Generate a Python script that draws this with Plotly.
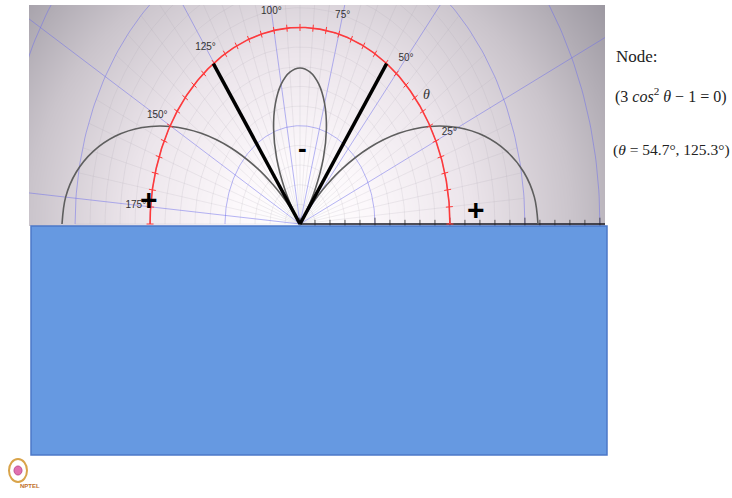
import numpy as np
import plotly.graph_objects as go

# ---------------- data ----------------
theta_deg = [0, 5, 10, 15, 20, 25, 30, 35, 40, 45, 48, 50, 52, 54.7, 57, 60, 65, 70, 75, 80, 85, 90,
             95, 100, 105, 110, 115, 120, 123, 125.3, 128, 130, 132, 135, 140, 145, 150, 155, 160,
             165, 170, 175, 180]
r_abs = [2.000, 1.977, 1.910, 1.799, 1.649, 1.464, 1.250, 1.013, 0.760, 0.500, 0.343, 0.240, 0.137,
         0.000, 0.110, 0.250, 0.464, 0.649, 0.799, 0.910, 0.977, 1.000,
         0.977, 0.910, 0.799, 0.649, 0.464, 0.250, 0.110, 0.000, 0.137, 0.240, 0.343, 0.500, 0.760,
         1.013, 1.250, 1.464, 1.649, 1.799, 1.910, 1.977, 2.000]
node_angles = [54.7, 125.3]
angle_labels = [25, 50, 75, 100, 125, 150, 175]
red_radius = 1.26
major_step = 0.63
minor_step = 0.126
signs = [("+", -1.27, 0.154), ("+", 1.48, 0.09), ("-", 0.025, 0.487)]
side_texts = ["Node:", "(3 <i>cos</i><sup>2</sup> <i>θ</i> − 1 = 0)", "(<i>θ</i> = 54.7°, 125.3°)"]

# ---------------- geometry of the slide ----------------
W, H = 732, 498
SX, SY = 119.0, 156.0      # px per unit (horizontal / vertical)
OX, OY = 300.0, 224.0      # origin in px
L, R, T, B = 29.0, 605.0, 5.0, 226.0
xr = [(L - OX) / SX, (R - OX) / SX]
yr = [-(B - OY) / SY, (OY - T) / SY]

fig = go.Figure()

# background radial gradient
gx = np.linspace(xr[0], xr[1], 220)
gy = np.linspace(yr[0], yr[1], 110)
GX, GY = np.meshgrid(gx, gy)
D = np.sqrt((GX * SX) ** 2 + (GY * SY) ** 2) / 378.0
fig.add_trace(go.Heatmap(x=gx, y=gy, z=D, zmin=0, zmax=1, showscale=False, hoverinfo="skip",
                         zsmooth="best",
                         colorscale=[[0, "#ffffff"], [0.18, "#fcf8fb"], [0.45, "#ece5eb"],
                                     [0.72, "#cac4cb"], [1, "#9b97a0"]]))


def pol(r, t):
    t = np.radians(t)
    return r * np.cos(t), r * np.sin(t)


def circles(radii):
    xs, ys = [], []
    t = np.linspace(0, 180, 181)
    for r in radii:
        x, y = pol(r, t)
        xs += list(x) + [None]
        ys += list(y) + [None]
    return xs, ys


def spokes(angles, r0, r1):
    xs, ys = [], []
    for a in angles:
        x0, y0 = pol(r0, a)
        x1, y1 = pol(r1, a)
        xs += [x0, x1, None]
        ys += [y0, y1, None]
    return xs, ys


GRID_MINOR = "rgba(170,160,175,0.22)"
GRID_MAJOR = "rgba(110,110,235,0.5)"

# minor grid
mr = [minor_step * k for k in range(1, 16) if k % 5 != 0]
cx, cy = circles(mr)
fig.add_trace(go.Scatter(x=cx, y=cy, mode="lines", line=dict(color=GRID_MINOR, width=0.8), hoverinfo="skip"))
sa = [a for a in range(0, 181, 5) if a % 25 != 0]
sx_, sy_ = spokes(sa, 0, 1.89)
fig.add_trace(go.Scatter(x=sx_, y=sy_, mode="lines", line=dict(color=GRID_MINOR, width=0.8), hoverinfo="skip"))

# major blue grid
cx, cy = circles([major_step * k for k in range(1, 6)])
fig.add_trace(go.Scatter(x=cx, y=cy, mode="lines", line=dict(color=GRID_MAJOR, width=1), hoverinfo="skip"))
sx_, sy_ = spokes(list(range(0, 181, 25)), 0, 4)
fig.add_trace(go.Scatter(x=sx_, y=sy_, mode="lines", line=dict(color=GRID_MAJOR, width=1), hoverinfo="skip"))

# radial axis with ticks
tk = [minor_step * k for k in range(0, 21)]
fig.add_trace(go.Scatter(x=[0, xr[1]], y=[0, 0], mode="lines", line=dict(color="#222", width=1.5),
                         hoverinfo="skip"))
fig.add_trace(go.Scatter(x=tk, y=[0] * len(tk), mode="markers", cliponaxis=False,
                         marker=dict(symbol="line-ns", size=[9 if k % 5 == 0 else 6 for k in range(21)],
                                     line=dict(color="#222", width=1)), hoverinfo="skip"))

# lobes
th = np.array(theta_deg)
ra = np.array(r_abs)
for lo, hi in [(0, 54.7), (54.7, 125.3), (125.3, 180)]:
    m = (th >= lo) & (th <= hi)
    x, y = pol(ra[m], th[m])
    fig.add_trace(go.Scatter(x=x, y=y, mode="lines", line=dict(color="#5e5e5e", width=1.6, shape="spline"),
                             hoverinfo="skip"))

# red circle with ticks
t = np.linspace(0, 180, 361)
x, y = pol(red_radius, t)
fig.add_trace(go.Scatter(x=x, y=y, mode="lines", line=dict(color="#ff3a3a", width=1.6), hoverinfo="skip"))
ta = np.arange(0, 181, 5)
x, y = pol(red_radius, ta)
fig.add_trace(go.Scatter(x=x, y=y, mode="markers", cliponaxis=False,
                         marker=dict(symbol="line-ew", size=5, angle=list(-ta),
                                     line=dict(color="#ff3a3a", width=1)), hoverinfo="skip"))

# node lines
for a in node_angles:
    x, y = pol(np.array([0, red_radius]), a)
    fig.add_trace(go.Scatter(x=x, y=y, mode="lines", line=dict(color="#000", width=3.5), hoverinfo="skip"))

# angle labels
x, y = pol(1.385, np.array(angle_labels))
fig.add_trace(go.Scatter(x=x, y=y, mode="text", text=[f"{a}°" for a in angle_labels],
                         textfont=dict(family="Liberation Sans, Arial", size=10, color="#333"),
                         hoverinfo="skip"))

annotations = []
tx, ty = pol(1.35, 38)
annotations.append(dict(x=tx, y=ty, xref="x", yref="y", text="<i>θ</i>", showarrow=False,
                        font=dict(family="Liberation Serif, serif", size=14, color="#333")))
for s, x0, y0 in signs:
    annotations.append(dict(x=x0, y=y0, xref="x", yref="y", text=f"<b>{s}</b>", showarrow=False,
                            font=dict(family="Liberation Sans, Arial", size=30 if s == "+" else 26,
                                      color="#000")))

for txt, px_, py, sz in zip(side_texts, [614, 613, 611], [57, 96, 150], [17, 16, 15.5]):
    annotations.append(dict(x=px_ / W, y=1 - py / H, xref="paper", yref="paper", text=txt,
                            showarrow=False, xanchor="left", yanchor="middle",
                            font=dict(family="Liberation Serif, serif", size=sz, color="#222")))

annotations.append(dict(x=18 / W, y=1 - 491 / H, xref="paper", yref="paper", text="<b>NPTEL</b>",
                        showarrow=False, font=dict(family="Liberation Sans, Arial", size=6, color="#c0702a")))

shapes = [
    dict(type="rect", xref="paper", yref="paper", x0=31 / W, x1=607 / W, y0=1 - 455 / H, y1=1 - 226 / H,
         fillcolor="#6699e1", line=dict(color="#4c78c8", width=1.5), layer="above"),
    dict(type="circle", xref="paper", yref="paper", x0=9 / W, x1=27 / W, y0=1 - 482 / H, y1=1 - 459 / H,
         line=dict(color="#d9a44a", width=2), layer="above"),
    dict(type="circle", xref="paper", yref="paper", x0=14 / W, x1=22 / W, y0=1 - 475 / H, y1=1 - 466 / H,
         fillcolor="#e070b0", line=dict(color="#c05090", width=1), layer="above"),
]

fig.update_layout(
    width=W, height=H, margin=dict(l=0, r=0, t=0, b=0),
    paper_bgcolor="white", plot_bgcolor="white", showlegend=False,
    xaxis=dict(domain=[L / W, R / W], range=xr, visible=False, fixedrange=True),
    yaxis=dict(domain=[1 - B / H, 1 - T / H], range=yr, visible=False, fixedrange=True),
    annotations=annotations, shapes=shapes,
)

fig.write_html("out.html")
